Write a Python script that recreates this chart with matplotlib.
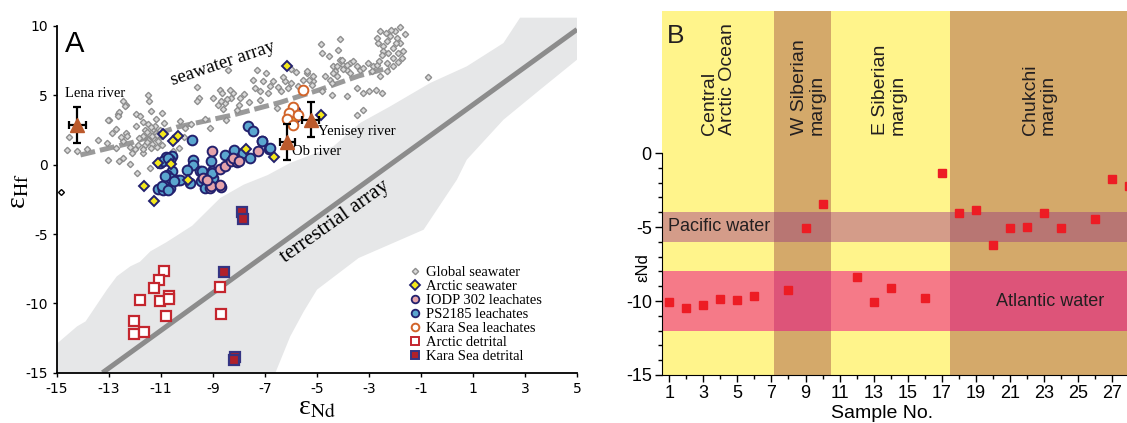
import matplotlib.pyplot as plt
from matplotlib.patches import Polygon, Rectangle
from matplotlib.lines import Line2D
from matplotlib.ticker import MultipleLocator
import numpy as np

plt.rcParams['font.family'] = ['Liberation Sans', 'DejaVu Sans']
plt.rcParams['axes.unicode_minus'] = False
plt.rcParams['mathtext.fontset'] = 'stix'

SERIF = ['Liberation Serif', 'DejaVu Serif']

# ---------------- panel A data (eNd, eHf) ----------------
global_sw = np.array([
    (-14.55, 2.0), (-14.63, 1.03), (-14.24, 0.96), (-13.83, 1.13), (-13.41, 1.78), (-13.09, 1.56),
    (-12.99, 3.22), (-12.74, 2.57), (-12.67, 3.63), (-12.6, 3.8), (-12.46, 4.59), (-12.36, 4.28),
    (-12.45, 1.68), (-12.35, 2.28), (-12.3, 2.05), (-12.1, 0.84), (-12.45, 0.48), (-12.6, 0.24),
    (-13.03, 0.36), (-12.2, 0.07), (-13.03, 3.24), (-12.64, 3.48), (-12.38, 4.25), (-12.9, 2.3),
    (-12.55, 2.0), (-12.2, 1.3), (-12.75, 1.2),
    (-11.96, 3.68), (-11.8, 3.48), (-11.4, 3.84), (-10.97, 3.72), (-10.9, 3.0), (-11.96, 2.76),
    (-11.7, 3.1), (-11.5, 2.9), (-11.3, 2.6), (-11.2, 2.3), (-11.6, 2.5), (-11.45, 2.2), (-11.3, 1.9),
    (-11.1, 1.7), (-11.5, 1.8), (-11.7, 2.1), (-11.85, 1.9), (-11.25, 2.8), (-11.05, 2.5), (-11.35, 1.5),
    (-11.6, 1.4), (-11.68, 0.84), (-11.87, 1.44), (-11.93, -0.6), (-11.42, -0.24), (-11.2, 3.3),
    (-11.0, 2.1), (-11.49, 5.0), (-11.45, 4.6), (-11.7, 1.1), (-12.0, 1.15), (-11.4, 1.2), (-11.15, 1.25),
    (-10.95, 1.4), (-11.55, 2.35), (-11.35, 2.05), (-11.15, 2.15), (-11.4, 2.7), (-11.55, 1.6),
    (-10.27, 3.12), (-10.08, 2.64), (-10.53, 0.96), (-10.3, 1.2), (-9.12, 2.64), (-9.63, 5.6),
    (-9.53, 4.8), (-9.6, 4.6), (-8.41, 6.85), (-8.99, 4.8), (-8.73, 5.4), (-8.65, 5.2), (-8.54, 4.45),
    (-8.22, 5.17), (-7.96, 4.8), (-7.8, 5.1), (-8.09, 3.97), (-8.8, 4.3), (-9.3, 3.3), (-10.1, 2.0),
    (-9.85, 2.9), (-8.5, 3.2), (-8.3, 4.8), (-8.6, 4.0), (-8.0, 4.3), (-8.45, 4.7), (-8.7, 4.6), (-8.35, 5.4),
    (-7.32, 6.85), (-6.96, 6.61), (-7.45, 6.13), (-7.07, 6.0), (-6.68, 6.0), (-6.23, 6.0), (-7.19, 4.69),
    (-6.55, 4.09), (-7.6, 4.5), (-7.4, 5.5), (-6.9, 5.2), (-6.3, 6.3), (-6.0, 5.89), (-5.4, 6.61),
    (-5.14, 6.0), (-5.3, 6.1), (-6.5, 5.6), (-6.8, 5.7), (-7.2, 5.3), (-6.4, 5.3), (-6.1, 5.5),
    (-4.86, 8.72), (-4.12, 9.08), (-4.82, 8.05), (-4.53, 7.86), (-4.18, 8.29), (-4.12, 7.57), (-3.99, 7.21),
    (-3.73, 7.33), (-3.6, 7.45), (-3.86, 6.85), (-3.73, 6.61), (-4.37, 7.09), (-4.31, 6.73), (-4.24, 6.37),
    (-4.5, 6.13), (-4.69, 6.37), (-4.44, 5.89), (-5.4, 6.73), (-5.53, 6.13), (-5.72, 5.65), (-5.2, 5.77),
    (-4.82, 5.29), (-4.44, 5.05), (-3.47, 5.53), (-3.22, 5.17), (-3.0, 5.3), (-2.75, 5.4), (-3.86, 4.93),
    (-3.47, 3.6), (-3.22, 3.97), (-3.47, 7.09), (-3.35, 6.85), (-3.22, 6.97), (-3.03, 7.33), (-2.83, 7.09),
    (-2.9, 6.73), (-2.7, 7.21), (-4.05, 7.57), (-3.86, 7.21), (-4.24, 7.09), (-4.0, 6.9), (-4.4, 6.6),
    (-2.58, 9.61), (-2.35, 9.5), (-2.0, 9.61), (-1.81, 9.93), (-2.19, 9.25), (-1.94, 9.13), (-2.64, 8.77),
    (-2.45, 8.53), (-2.3, 8.9), (-2.06, 8.41), (-1.81, 8.77), (-1.68, 8.17), (-1.87, 8.05), (-2.26, 8.05),
    (-2.45, 8.2), (-2.06, 7.69), (-1.75, 7.69), (-2.32, 7.33), (-2.06, 7.09), (-2.32, 6.73), (-2.58, 6.37),
    (-2.7, 9.1), (-2.15, 9.7), (-1.6, 9.4), (-1.95, 8.75), (-2.5, 7.9), (-2.6, 7.5), (-1.9, 7.4),
    (-0.72, 6.32), (-2.51, 5.17), (-5.14, 6.4), (-5.8, 6.7), (-6.0, 6.9),
])
odd_sw = np.array([(-14.85, -2.0)])

arctic_sw = np.array([
    (-6.17, 7.14), (-10.94, 2.24), (-10.55, 1.70), (-10.33, 2.07), (-11.12, 0.10), (-10.63, 0.02),
    (-6.64, 0.57), (-11.65, -1.53), (-11.26, -2.60), (-5.85, 3.24), (-4.86, 3.60), (-9.95, -1.08),
    (-7.73, 1.13),
])

ps2185 = np.array([
    (-7.67, 2.81), (-7.47, 2.40), (-9.82, 1.80), (-7.13, 1.73), (-6.85, 1.13), (-10.59, 0.60),
    (-8.54, 0.72), (-8.18, 1.03), (-7.83, 0.84), (-7.58, 0.48), (-9.78, 0.36), (-9.09, 0.24),
    (-9.76, 0.00), (-10.01, -0.36), (-9.50, -0.48), (-9.05, -0.48), (-10.59, -0.48), (-10.33, -1.08),
    (-9.88, -1.32), (-9.47, -1.20), (-9.01, -0.96), (-9.31, -1.68), (-10.65, -1.68), (-10.82, 0.55),
    (-10.65, 0.36), (-11.04, 0.12), (-10.78, -0.72), (-10.65, -0.96), (-11.10, -1.73), (-10.91, -1.80),
    (-10.27, -1.08), (-9.44, -0.48), (-9.05, -0.60), (-10.91, 0.24), (-10.72, 0.48), (-10.85, -0.84),
    (-10.97, -1.56), (-10.72, -1.80), (-10.50, -1.20), (-5.85, 3.84), (-7.13, 1.68), (-6.81, 1.20),
])

iodp302 = np.array([
    (-9.05, 0.96), (-7.26, 0.96), (-8.73, -0.31), (-8.54, -0.12), (-8.31, 0.24), (-8.09, 0.17),
    (-9.12, -1.68), (-9.37, -0.96), (-8.22, 0.48), (-8.70, -1.61), (-9.09, -1.56), (-8.73, -1.44),
    (-9.25, -1.10), (-8.00, 0.30),
])

kara_leach = np.array([
    (-5.53, 5.40), (-5.94, 4.13), (-6.07, 3.75), (-6.17, 3.30), (-5.91, 2.88), (-5.75, 3.55),
])

arctic_det = np.array([
    (-10.90, -7.69), (-11.06, -8.34), (-11.28, -8.89), (-11.82, -9.73), (-11.03, -9.86), (-10.70, -9.50),
    (-10.70, -9.70), (-12.05, -11.30), (-12.03, -12.20), (-11.64, -12.06), (-10.80, -10.94),
    (-8.72, -8.85), (-8.69, -10.74),
])

kara_det = np.array([
    (-7.88, -3.41), (-7.86, -3.92), (-8.56, -7.76), (-8.14, -13.87), (-8.20, -14.06),
])

rivers = ['Lena river', 'Ob river', 'Yenisey river']
river_nd = [-14.22, -6.14, -5.24]
river_hf = [2.88, 1.61, 3.24]
river_nd_err = [0.33, 0.29, 0.32]
river_hf_err = [1.31, 1.29, 1.27]

sw_array_nd = [-14.1, -12.1, -10.4, -8.2, -6.4, -4.9, -3.4, -2.2]
sw_array_hf = [0.7, 1.6, 2.7, 3.6, 4.5, 5.4, 6.4, 7.0]

terr_nd = [-13.25, 5.0]
terr_hf = [-15.0, 9.75]

terr_band = [
    (-15, -15), (-15, -12.9), (-14.23, -11.66), (-13.9, -11.3), (-13.08, -9.01), (-12.7, -8.05),
    (-12.18, -7.33), (-11.81, -7.0), (-11.41, -6.25), (-10.8, -5.6), (-9.8, -4.4), (-9.1, -3.1),
    (-8.72, -2.4), (-7.82, -1.44), (-6.9, -0.75), (-6.04, 0.12), (-4.37, 1.32), (-3.35, 3.0),
    (-2.19, 4.2), (-0.65, 5.89), (0.76, 7.09), (2.17, 8.77), (2.81, 10.6), (5, 10.6),
    (5, 7.57), (3.58, 5.41), (2.17, 3.24), (0.76, 0.36), (0.38, -1.08), (-0.9, -4.69),
    (-3.4, -6.73), (-5.0, -9.01), (-5.51, -10.58), (-6.03, -12.38), (-6.6, -15),
]

# ---------------- panel B data ----------------
sample_no = [1, 2, 3, 4, 5, 6, 8, 9, 10, 12, 13, 14, 16, 17, 18, 19, 20, 21, 22, 23, 24, 26, 27, 28]
eps_nd = [-10.1, -10.5, -10.3, -9.85, -9.9, -9.65, -9.23, -5.05, -3.42, -8.38, -10.05, -9.1,
          -9.78, -1.33, -4.03, -3.83, -6.2, -5.05, -4.98, -4.08, -5.05, -4.44, -1.78, -2.2]

regions = ['Central\nArctic Ocean', 'W Siberian\nmargin', 'E Siberian\nmargin', 'Chukchi\nmargin']
region_edges = [0.55, 7.15, 10.5, 17.45, 28.5]
region_kind = ['y', 'b', 'y', 'b']
region_label_x = [3.9, 9.15, 13.9, 22.7]

water_masses = ['Pacific water', 'Atlantic water']
water_ranges = [(-6, -4), (-12, -8)]

# ---------------- figure ----------------
fig = plt.figure(figsize=(11.27, 4.23), dpi=100)

# ---- panel A ----
ax = fig.add_axes([0.0506, 0.1189, 0.4614, 0.8426])
ax.set_xlim(-15, 5)
ax.set_ylim(-15, 10.7)

ax.add_patch(Polygon(terr_band, closed=True, facecolor='#E6E7E8', edgecolor='none', zorder=0))
ax.plot(terr_nd, terr_hf, color='#8C8C8C', lw=3.6, solid_capstyle='butt', zorder=1)
ax.plot(sw_array_nd, sw_array_hf, color='#9A9A9A', lw=3.6, dashes=(3.0, 1.0), zorder=1)

ax.plot(global_sw[:, 0], global_sw[:, 1], 'D', ms=3.2, mfc='#DADADA', mec='#8E8E8E', mew=1.0,
        ls='none', zorder=2)
ax.plot(odd_sw[:, 0], odd_sw[:, 1], 'D', ms=3.0, mfc='white', mec='black', mew=1.0, ls='none',
        zorder=2, clip_on=False)

navy = '#23216E'
ax.plot(ps2185[:, 0], ps2185[:, 1], 'o', ms=7, mfc='#5AA6CF', mec=navy, mew=1.4, ls='none', zorder=3)
ax.plot(iodp302[:, 0], iodp302[:, 1], 'o', ms=7, mfc='#E5A3AA', mec=navy, mew=1.4, ls='none', zorder=3)
ax.plot(arctic_sw[:, 0], arctic_sw[:, 1], 'D', ms=5.5, mfc='#F4E81C', mec=navy, mew=1.4, ls='none', zorder=4)
ax.plot(kara_leach[:, 0], kara_leach[:, 1], 'o', ms=7, mfc='white', mec='#D2642A', mew=1.4, ls='none',
        zorder=4)
ax.plot(arctic_det[:, 0], arctic_det[:, 1], 's', ms=7.5, mfc='white', mec='#C4262E', mew=1.6, ls='none',
        zorder=3)
ax.plot(kara_det[:, 0], kara_det[:, 1], 's', ms=7.5, mfc='#B0202A', mec='#353482', mew=1.6, ls='none',
        zorder=3)

ax.errorbar(river_nd, river_hf, xerr=river_nd_err, yerr=river_hf_err, fmt='^', ms=10,
            mfc='#BC5A2C', mec='#BC5A2C', ecolor='black', elinewidth=1.6, capsize=3, capthick=1.6,
            zorder=5)

ax.text(-14.69, 5.12, 'Lena river', family=SERIF, fontsize=10.5, va='center')
ax.text(-5.97, 0.92, 'Ob river', family=SERIF, fontsize=10.5, va='center')
ax.text(-4.96, 2.38, 'Yenisey river', family=SERIF, fontsize=10.5, va='center')
ax.text(-8.62, 7.32, 'seawater array', family=SERIF, fontsize=13.5, rotation=18.6,
        ha='center', va='center', rotation_mode='anchor')
ax.text(-4.3, -4.09, 'terrestrial array', family=SERIF, fontsize=15, rotation=35.5,
        ha='center', va='center', rotation_mode='anchor')
ax.text(-14.69, 8.15, 'A', fontsize=21, va='baseline')

handles = [
    Line2D([], [], marker='D', ls='none', ms=3.2, mfc='#DADADA', mec='#8E8E8E', mew=1.0),
    Line2D([], [], marker='D', ls='none', ms=5, mfc='#F4E81C', mec=navy, mew=1.3),
    Line2D([], [], marker='o', ls='none', ms=5.5, mfc='#E5A3AA', mec=navy, mew=1.3),
    Line2D([], [], marker='o', ls='none', ms=5.5, mfc='#5AA6CF', mec=navy, mew=1.3),
    Line2D([], [], marker='o', ls='none', ms=5.5, mfc='white', mec='#D2642A', mew=1.4),
    Line2D([], [], marker='s', ls='none', ms=5.5, mfc='white', mec='#C4262E', mew=1.4),
    Line2D([], [], marker='s', ls='none', ms=5.5, mfc='#B0202A', mec='#353482', mew=1.4),
]
labels = ['Global seawater', 'Arctic seawater', 'IODP 302 leachates', 'PS2185 leachates',
          'Kara Sea leachates', 'Arctic detrital', 'Kara Sea detrital']
ax.legend(handles, labels, loc='lower left', bbox_to_anchor=(0.678, 0.027), frameon=False,
          prop={'family': SERIF, 'size': 10.5}, handlelength=0.8, handletextpad=0.3,
          labelspacing=0.05, borderpad=0, borderaxespad=0)

ax.set_xticks(np.arange(-15, 6, 2))
ax.set_yticks([-15, -10, -5, 0, 5, 10])
ax.tick_params(direction='out', length=3, width=1, labelsize=10)
for lab in ax.get_xticklabels() + ax.get_yticklabels():
    lab.set_family('DejaVu Sans')
ax.spines['top'].set_visible(False)
ax.spines['right'].set_visible(False)
ax.spines['left'].set_bounds(-15, 10)
ax.spines['left'].set_linewidth(1.3)
ax.spines['bottom'].set_linewidth(1.3)
ax.set_xlabel('ε$_{\\rm Nd}$', family=SERIF, fontsize=20, labelpad=0)
ax.set_ylabel('ε$_{\\rm Hf}$', family=SERIF, fontsize=20)
ax.yaxis.set_label_coords(-0.05, 0.51)

# ---- panel B ----
bx = fig.add_axes([0.587, 0.1135, 0.4226, 0.8605])
bx.set_xlim(region_edges[0], region_edges[-1])
bx.set_ylim(-15, 9.6)

base_col = {'y': '#FFF48B', 'b': '#D4A96A'}
mix_col = {('y', 0): '#D49C89', ('b', 0): '#B87673', ('y', 1): '#F57A88', ('b', 1): '#DD5479'}
for i, kind in enumerate(region_kind):
    x0, x1 = region_edges[i], region_edges[i + 1]
    bx.add_patch(Rectangle((x0, -15), x1 - x0, 24.6, facecolor=base_col[kind], edgecolor='none', zorder=0))
    for j, (lo, hi) in enumerate(water_ranges):
        bx.add_patch(Rectangle((x0, lo), x1 - x0, hi - lo, facecolor=mix_col[(kind, j)],
                               edgecolor='none', zorder=0))
    bx.text(region_label_x[i], 1.2, regions[i], rotation=90, ha='center', va='bottom',
            multialignment='left', fontsize=14, color='#231F20', linespacing=1.05)

bx.text(0.5 + 0.45, -4.95, water_masses[0], fontsize=13, va='center', color='#231F20')
bx.text(23.34, -10.0, water_masses[1], fontsize=13, ha='center', va='center', color='#231F20')
bx.text(0.85, 7.41, 'B', fontsize=19, va='baseline', color='#231F20')

bx.plot(sample_no, eps_nd, 's', ms=6.2, color='#ED1C24', ls='none', zorder=3, clip_on=False)

bx.set_xticks(np.arange(1, 28, 2))
bx.xaxis.set_minor_locator(MultipleLocator(1))
bx.set_yticks([0, -5, -10, -15])
bx.set_yticks(np.arange(-15, 1, 1), minor=True)
bx.tick_params(which='major', direction='out', length=5, width=1, labelsize=13, pad=2)
bx.tick_params(which='minor', direction='out', length=3, width=1)
bx.spines['top'].set_visible(False)
bx.spines['right'].set_visible(False)
bx.spines['left'].set_bounds(-15, 0)
bx.set_xlabel('Sample No.', fontsize=14)
bx.xaxis.set_label_coords(0.463, -0.083)
bx.set_ylabel('εNd', fontsize=12)
bx.yaxis.set_label_coords(-0.024, 0.294)

fig.savefig('out.png', dpi=100)
